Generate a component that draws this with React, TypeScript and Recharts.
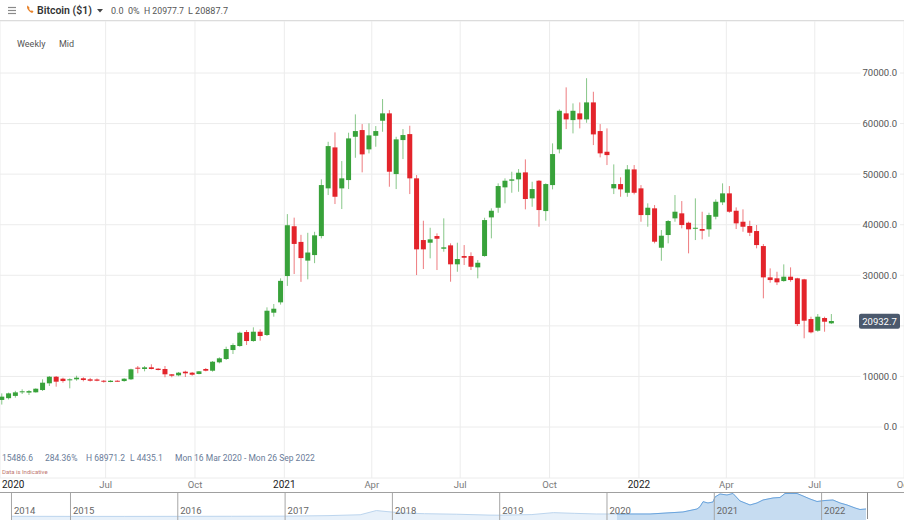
import React from 'react';
import { ComposedChart, Bar, XAxis, YAxis, CartesianGrid, ReferenceLine, AreaChart, Area } from 'recharts';

const FONT = 'Roboto, "Open Sans", Arial, sans-serif';
const GREEN = '#38a23a';
const RED = '#e3242b';

// ---------- data ----------
const FIRST_WEEK = '2020-03-16';

const opens = [
  5350, 5700, 6150, 6860, 6800, 6860, 7310, 8640, 9940, 9550,
  9230, 9430, 9630, 9430, 9400, 9150, 8900, 9150, 9090, 9430,
  11730, 11470, 11800, 11530, 11470, 10420, 10220, 10940, 10740, 10480,
  11470, 11130, 12790, 13440, 15220, 16010, 18780, 17000, 18840, 18190,
  22600, 24650, 29850, 39700, 36600, 32900, 34000, 37760, 47190, 55290,
  47190, 48830, 57390, 58720, 54900, 57590, 60560, 62020, 50020, 56740,
  57920, 49170, 36970, 36440, 37760, 35250, 35920, 32170, 33810, 33810,
  31570, 33810, 41450, 43360, 47390, 48700, 48970, 50350, 45210, 48700,
  42700, 47840, 54900, 62020, 60690, 62020, 60830, 64190, 58520, 54430,
  47190, 48040, 46320, 50940, 47190, 41910, 43240, 35450, 37960, 41260,
  42250, 40390, 39200, 39150, 39090, 41580, 44420, 46200, 42760, 40590,
  39740, 38750, 35780, 29590, 29400, 28860, 29720, 29400, 29200, 21350,
  19040, 21550, 20500,
];
const highs = [
  6650, 6800, 7150, 7450, 7310, 7650, 9430, 10080, 10080, 9750,
  9630, 10140, 9830, 9700, 9600, 9290, 9290, 9250, 9650, 11530,
  12060, 12060, 12400, 11650, 12060, 10480, 10880, 11130, 10880, 11070,
  11660, 13050, 13780, 15880, 16550, 18840, 19180, 19710, 19310, 23660,
  24320, 29400, 42100, 41400, 38000, 38400, 38600, 48970, 56400, 58260,
  52590, 58190, 61820, 59900, 60040, 59510, 64850, 62670, 57390, 58910,
  59570, 49820, 40790, 39400, 38290, 41260, 36320, 36440, 35980, 34540,
  33020, 41380, 43240, 48180, 49170, 50480, 51010, 52920, 48500, 48830,
  48180, 56090, 62810, 67160, 63990, 64190, 68971, 66290, 59900, 59050,
  51930, 49370, 51800, 51800, 47840, 44230, 43890, 38950, 40920, 45870,
  44680, 40600, 45210, 42570, 42370, 45010, 48180, 47650, 43430, 43040,
  40790, 39940, 36180, 31370, 30700, 32160, 31570, 29500, 29300, 21810,
  22340, 21810, 22340,
];
const lows = [
  4435, 5450, 5800, 6520, 6330, 6800, 7120, 8110, 7970, 8760,
  7650, 9150, 9030, 9000, 9050, 8760, 8850, 8950, 8950, 9290,
  10620, 11010, 11400, 11200, 9830, 9830, 10040, 9890, 10140, 10420,
  11010, 10940, 12590, 13250, 14430, 15880, 16210, 16860, 17060, 17990,
  21810, 24200, 27900, 30250, 28700, 29200, 32400, 37300, 45870, 44090,
  43100, 47050, 53240, 50360, 54110, 55420, 58380, 47510, 47050, 52980,
  46060, 30050, 31240, 33350, 31040, 34660, 28730, 30700, 32030, 31040,
  29400, 33670, 37300, 42370, 44230, 46320, 46520, 43040, 43550, 39600,
  40790, 46990, 54110, 58910, 58060, 59050, 60160, 55750, 53320, 51800,
  46060, 45530, 45530, 46000, 40590, 39600, 36320, 32880, 36320, 40590,
  39280, 34340, 36970, 37110, 37620, 41060, 43890, 42370, 39150, 38610,
  37760, 35330, 25440, 28530, 28070, 28730, 28730, 19970, 17540, 18520,
  18840, 18840, 20360,
];
const closes = [
  6000, 6650, 6850, 7060, 7100, 7570, 8760, 9940, 8960, 9090,
  9430, 9750, 9290, 9150, 9150, 9030, 9150, 9030, 9550, 11410,
  11530, 11800, 11470, 11270, 10420, 10140, 10740, 10620, 10340, 11010,
  11130, 12910, 13580, 15420, 16210, 18640, 17000, 18840, 17990, 22990,
  23390, 28900, 39900, 36200, 33400, 34500, 37900, 47840, 55550, 45530,
  49170, 57070, 58520, 53910, 57670, 58520, 62020, 50480, 56880, 57730,
  49170, 35130, 35130, 37110, 37230, 35530, 32170, 33210, 33470, 31690,
  32480, 40920, 42760, 47650, 48700, 48970, 50280, 45080, 47050, 42900,
  48040, 53970, 62530, 60830, 62530, 60830, 64190, 57860, 54110, 53770,
  48040, 46990, 50940, 46320, 41910, 43360, 36640, 37830, 40730, 42570,
  39940, 39090, 39400, 38810, 41910, 44540, 46200, 42570, 40270, 39600,
  38410, 35980, 29590, 29060, 28610, 29720, 29060, 20360, 21020, 18720,
  21810, 20820, 20960,
];

const xTickDates = [
  '2020-07-01', '2020-10-01', '2021-01-01', '2021-04-01', '2021-07-01',
  '2021-10-01', '2022-01-01', '2022-04-01', '2022-07-01', '2022-10-01',
];
const monthNames = ['Jan', 'Feb', 'Mar', 'Apr', 'May', 'Jun', 'Jul', 'Aug', 'Sep', 'Oct', 'Nov', 'Dec'];
const yTicks = [0, 10000, 20000, 30000, 40000, 50000, 60000, 70000];
const lastPrice = 20932.7;

const headerTitle = 'Bitcoin ($1)';
const headerStats = ['0.0', '0%', 'H 20977.7', 'L 20887.7'];
const viewLabels = ['Weekly', 'Mid'];
const rangeStats = ['15486.6', '284.36%', 'H 68971.2', 'L 4435.1', 'Mon 16 Mar 2020 - Mon 26 Sep 2022'];

// navigator (whole history overview)
const navT = [
  2014.45, 2015.0, 2015.5, 2016.0, 2016.5, 2017.0, 2017.4, 2017.7, 2017.85, 2017.95,
  2018.1, 2018.3, 2018.6, 2018.9, 2019.0, 2019.3, 2019.5, 2019.7, 2019.9, 2020.093,
  2020.401, 2020.708, 2020.839, 2020.867, 2020.895, 2020.941, 2020.988, 2021.007, 2021.053, 2021.118,
  2021.174, 2021.24, 2021.333, 2021.398, 2021.454, 2021.547, 2021.612, 2021.659, 2021.771, 2021.827,
  2021.892, 2021.957, 2022.032, 2022.106, 2022.172, 2022.237, 2022.312, 2022.358, 2022.414,
];
const navV = [
  600, 300, 250, 430, 650, 1000, 2500, 5000, 17000, 14000,
  10000, 8000, 6500, 4000, 3700, 5500, 11000, 9000, 7200, 7100,
  7100, 12900, 21400, 28000, 42300, 38600, 41400, 55700, 64300, 61400,
  65700, 44300, 32900, 38600, 47100, 52900, 54300, 65700, 65700, 58600,
  50000, 42900, 45700, 47100, 38600, 32900, 24300, 20000, 21400,
];
const navWindowStart = 2020.093;
const navYearTicks = [2014.45, 2015, 2016, 2017, 2018, 2019, 2020, 2021, 2022];
const navYearLabels = ['2014', '2015', '2016', '2017', '2018', '2019', '2020', '2021', '2022'];

// ---------- derived tables ----------
const WEEK = 7 * 86400000;
const parseDay = (s: string) => {
  const [y, m, d] = s.split('-').map(Number);
  return Date.UTC(y, m - 1, d);
};
const t0 = parseDay(FIRST_WEEK);
const candles = opens.map((o, i) => ({ t: t0 + i * WEEK, o, h: highs[i], l: lows[i], c: closes[i] }));

const navData = navT.map((t, i) => ({ t, v: navV[i], w: t >= navWindowStart ? navV[i] : null }));

// ---------- layout ----------
const CHART_W = 910;
const PX_PER_WEEK = 6.8;
const FIRST_X = 1.67;
const xMin = t0 - (FIRST_X / PX_PER_WEEK) * WEEK;
const xMax = xMin + (CHART_W / PX_PER_WEEK) * WEEK;
const xTicks = [xMin, ...xTickDates.map(parseDay)];
const yDomain: [number, number] = [-10085, 80285];
const navDomain: [number, number] = [2014.343, 2022.768];
const LABEL_RIGHT = 897;

const Candle = (props: any) => {
  const { x, y, width, height, payload } = props;
  if (x == null || payload == null || !isFinite(y)) return null;
  const { o, h, l, c } = payload;
  const cx = x + width / 2;
  const ratio = h === l ? 0 : height / (h - l);
  const py = (v: number) => y + (h - v) * ratio;
  const up = c >= o;
  const color = up ? GREEN : RED;
  const top = py(Math.max(o, c));
  const bot = py(Math.min(o, c));
  const bh = Math.max(1, bot - top);
  return (
    <g>
      <line x1={cx} x2={cx} y1={y} y2={y + height} stroke={color} strokeOpacity={0.6} strokeWidth={1} />
      <rect x={cx - 2.5} y={top} width={5} height={bh} fill={color} />
    </g>
  );
};

const XTick = (props: any) => {
  const { x, payload } = props;
  const v = payload.value;
  if (v === xMin) {
    return (
      <text x={2} y={488} fontSize={10} fill="#222" fontFamily={FONT}>
        {new Date(t0).getUTCFullYear()}
      </text>
    );
  }
  const d = new Date(v);
  const isYear = d.getUTCMonth() === 0;
  return (
    <text x={x} y={488} textAnchor="middle" fontSize={isYear ? 10 : 9.5} fill={isYear ? '#222' : '#7a7a7a'} fontFamily={FONT}>
      {isYear ? d.getUTCFullYear() : monthNames[d.getUTCMonth()]}
    </text>
  );
};

// value-axis label; the one hidden behind the last-price tag is skipped, as in the source
const YTick = (props: any) => {
  const { y, payload } = props;
  const v = Number(payload.value);
  if (Math.abs(v - lastPrice) < 2500) return null;
  const label = v.toFixed(1);
  const w = (label.length - 1) * 5.34 + 2.5;
  return (
    <g>
      <rect x={LABEL_RIGHT - w - 2} y={y - 6} width={w + 5} height={12} fill="#fff" />
      <text x={LABEL_RIGHT} y={y + 3.4} textAnchor="end" fontSize={9.5} fill="#555" fontFamily={FONT}>
        {label}
      </text>
    </g>
  );
};

const PriceTag = (props: any) => {
  const vb = props.viewBox || {};
  const y = vb.y;
  if (y == null) return null;
  return (
    <g>
      <rect x={859} y={y - 7.5} width={41} height={15} rx={2} fill="#4b596d" />
      <text x={879.5} y={y + 3.4} textAnchor="middle" fill="#fff" fontSize={9.5} fontFamily={FONT}>
        {lastPrice.toFixed(1)}
      </text>
    </g>
  );
};

const NavYearLabel = (props: any) => {
  const vb = props.viewBox || {};
  return (
    <text x={vb.x + 2.5} y={22} fontSize={9.5} fill="#666" fontFamily={FONT}>
      {props.text}
    </text>
  );
};

export default function App() {
  return (
    <div style={{ position: 'relative', width: 904, height: 520, overflow: 'hidden', background: '#fff', fontFamily: FONT }}>
      <style>{'body{margin:0}'}</style>
      <div style={{ position: 'absolute', left: 0, top: 0 }}>
        <ComposedChart width={CHART_W} height={492} data={candles} margin={{ top: 21, right: 0, left: 0, bottom: 0 }}>
          <CartesianGrid stroke="#ececec" />
          <XAxis
            dataKey="t"
            type="number"
            domain={[xMin, xMax]}
            ticks={xTicks}
            interval={0}
            height={14}
            tick={<XTick />}
            axisLine={false}
            tickLine={false}
            allowDataOverflow
          />
          <YAxis
            orientation="right"
            mirror
            width={40}
            domain={yDomain}
            ticks={yTicks}
            interval={0}
            tick={<YTick />}
            axisLine={false}
            tickLine={false}
            allowDataOverflow
          />
          <Bar dataKey={(d: any) => [d.l, d.h]} barSize={5} shape={(p: any) => <Candle {...p} />} isAnimationActive={false} />
          <ReferenceLine y={lastPrice} stroke="none" strokeOpacity={0} label={<PriceTag />} />
        </ComposedChart>
      </div>
      <div style={{ position: 'absolute', left: 0, top: 492 }}>
        <AreaChart width={904} height={28} data={navData} margin={{ top: 0, right: 0, left: 0, bottom: 0 }}>
          <XAxis dataKey="t" type="number" domain={navDomain} hide allowDataOverflow />
          <YAxis domain={[-10000, 70000]} hide allowDataOverflow />
          <Area type="linear" dataKey="v" stroke="#bcd5ee" strokeWidth={1} fill="#e8f1fa" fillOpacity={1} baseValue="dataMin" isAnimationActive={false} dot={false} activeDot={false} />
          <Area type="linear" dataKey="w" stroke="#6aa4dd" strokeWidth={1} fill="#c6dcf1" fillOpacity={1} baseValue="dataMin" connectNulls={false} isAnimationActive={false} dot={false} activeDot={false} />
          {navYearTicks.map((t, i) => (
            <ReferenceLine key={t} x={t} stroke="#a6a6a6" label={<NavYearLabel text={navYearLabels[i]} />} />
          ))}
        </AreaChart>
      </div>
      <svg width={904} height={520} style={{ position: 'absolute', left: 0, top: 0, pointerEvents: 'none' }} fontFamily={FONT}>
        {/* header */}
        <line x1={0} x2={904} y1={20.5} y2={20.5} stroke="#dcdcdc" />
        <line x1={8} x2={16} y1={7.5} y2={7.5} stroke="#8a8a8a" strokeWidth={1.2} />
        <line x1={8} x2={16} y1={10.5} y2={10.5} stroke="#8a8a8a" strokeWidth={1.2} />
        <line x1={8} x2={16} y1={13.5} y2={13.5} stroke="#8a8a8a" strokeWidth={1.2} />
        <path d="M27.6 5.4 c-0.9 0.9 -0.8 2.7 0.6 4.6 c1.5 2 3.3 3.1 4.4 2.8 l0.9 -1.2 l-1.6 -1.4 l-0.9 0.7 c-0.8 -0.4 -1.6 -1.3 -2 -2.1 l0.7 -0.9 l-1.4 -1.6 z" fill="#e8822a" />
        <text x={37} y={13.8} fontSize={10.5} fontWeight={600} fill="#333">{headerTitle}</text>
        <polygon points="97,9 103,9 100,12.5" fill="#444" />
        <text x={111} y={13.8} fontSize={9} fill="#555">{headerStats[0]}</text>
        <text x={128} y={13.8} fontSize={9} fill="#555">{headerStats[1]}</text>
        <text x={144} y={13.8} fontSize={9} fill="#555" textLength={40} lengthAdjust="spacingAndGlyphs">{headerStats[2]}</text>
        <text x={188} y={13.8} fontSize={9} fill="#555" textLength={40} lengthAdjust="spacingAndGlyphs">{headerStats[3]}</text>
        <text x={17} y={47} fontSize={9} fill="#555">{viewLabels[0]}</text>
        <text x={59} y={47} fontSize={9} fill="#555">{viewLabels[1]}</text>
        {/* range stats */}
        <text x={2} y={460.5} fontSize={8.5} fill="#6a7c99">{rangeStats[0]}</text>
        <text x={45} y={460.5} fontSize={8.5} fill="#6a7c99">{rangeStats[1]}</text>
        <text x={86} y={460.5} fontSize={8.5} fill="#6a7c99">{rangeStats[2]}</text>
        <text x={130} y={460.5} fontSize={8.5} fill="#6a7c99">{rangeStats[3]}</text>
        <text x={175} y={460.5} fontSize={8.5} fill="#6a7c99">{rangeStats[4]}</text>
        <text x={2} y={474.3} fontSize={6} fill="#c0776f">Data is Indicative</text>
        {/* navigator frame */}
        <line x1={0} x2={904} y1={492.5} y2={492.5} stroke="#a0a0a0" />
        <line x1={867.5} x2={867.5} y1={492.5} y2={519} stroke="#8c8c8c" />
      </svg>
    </div>
  );
}
